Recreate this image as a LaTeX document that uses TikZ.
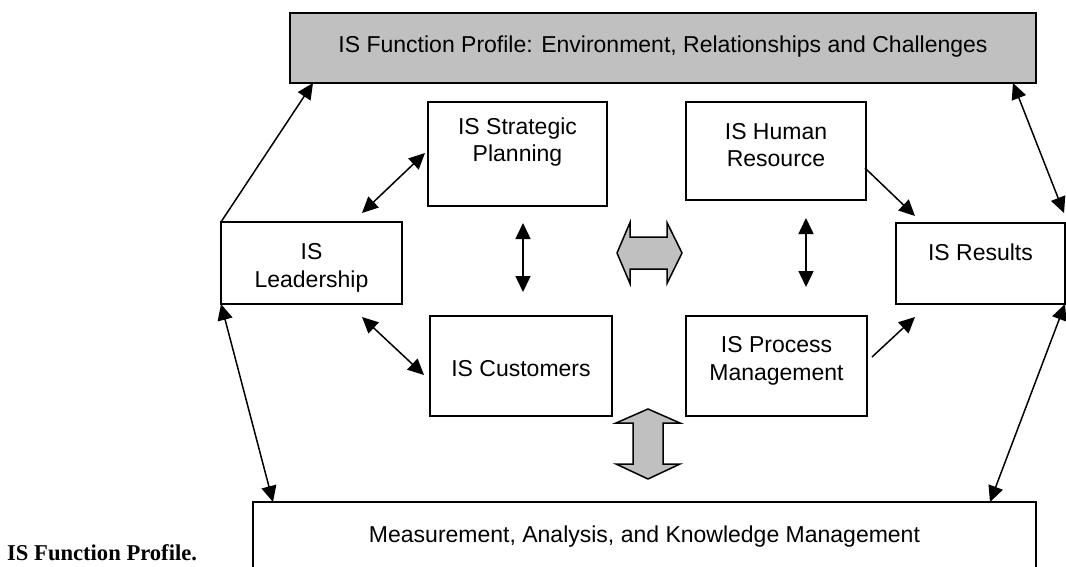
\documentclass[tikz,border=0pt]{standalone}
\usepackage{fontspec}
\setmainfont{Liberation Sans}
\newfontfamily\capfont{Liberation Serif}
\usetikzlibrary{arrows.meta,calc}
\definecolor{panelgray}{HTML}{C0C0C0}

\begin{document}
\begin{tikzpicture}[x=1pt,y=-1pt,
  box/.style={draw,line width=1.5pt,align=center,anchor=north west,inner sep=0pt,outer sep=0pt,font=\fontsize{23}{27.5}\selectfont},
  link/.style={line width=1.5pt},
  fat/.style={draw,line width=1.5pt,fill=panelgray},
  >={Triangle[length=16pt,width=15pt]}]
\clip (0,0) rectangle (1066,567);
\node at (290,13)[box,fill=panelgray,minimum width=746pt,text height=40pt,text depth=30pt] (prof) {IS Function Profile: Environment, Relationships and Challenges};
\node at (428,102)[box,minimum width=179pt,text height=60pt,text depth=44pt] (plan) {IS Strategic\\Planning};
\node at (686,102)[box,minimum width=180pt,text height=65pt,text depth=33pt] (hr) {IS Human\\Resource};
\node at (221,222)[box,minimum width=181pt,text height=65pt,text depth=17pt] (lead) {IS\\Leadership};
\node at (430,316)[box,minimum width=182pt,text height=60pt,text depth=40pt] (cust) {IS Customers};
\node at (686,316)[box,minimum width=181pt,text height=64pt,text depth=36pt] (proc) {IS Process\\Management};
\node at (896,223)[box,minimum width=169pt,text height=37pt,text depth=44pt] (res) {IS Results};
\node at (253,502)[box,minimum width=783pt,text height=40pt,text depth=50pt] (meas) {Measurement, Analysis, and Knowledge Management};
\node at (7,560)[anchor=base west,inner sep=0pt,font=\capfont\bfseries\fontsize{22.6}{27}\selectfont] (cap) {IS Function Profile.};

% outer ring
\draw[link,->] (lead.north west) -- ($(prof.south west)+(23,0)$);
\draw[link,<->] (lead.south west) -- ($(meas.north west)+(20,0)$);
\draw[link,<->] ($(prof.south east)+(-23,0)$) -- ($(res.north east)+(-1,-10)$);
\draw[link,<->] (res.south east) -- ($(meas.north east)+(-46,0)$);

% inner links
\draw[link,<->] ($(lead.north east)+(-40,-9)$) -- ($(plan.north west)+(-3,51)$);
\draw[link,<->] ($(lead.south east)+(-40,13)$) -- ($(cust.north west)+(-6,59)$);
\draw[link,<->] ($(plan.south)+(5.5,17)$) -- ($(cust.north)+(2,-24)$);
\draw[link,<->] ($(hr.south)+(30,18)$) -- ($(proc.north)+(29.5,-29)$);
\draw[link,->] ($(hr.east)+(-1,17)$) -- ($(res.north west)+(19,-7)$);
\draw[link,->] ($(proc.east)+(5,-9)$) -- ($(res.south west)+(19,13)$);

% block arrows
\draw[fat] (617,253) -- (630,222.5) -- (630,237) -- (667,237) -- (667,222.5) -- (682,253)
  -- (667,283.5) -- (667,269) -- (630,269) -- (630,283.5) -- cycle;
\draw[fat] (648,409) -- (680,423) -- (663,423) -- (663,464) -- (680,464) -- (648,479)
  -- (616,464) -- (633,464) -- (633,423) -- (616,423) -- cycle;
\end{tikzpicture}
\end{document}
